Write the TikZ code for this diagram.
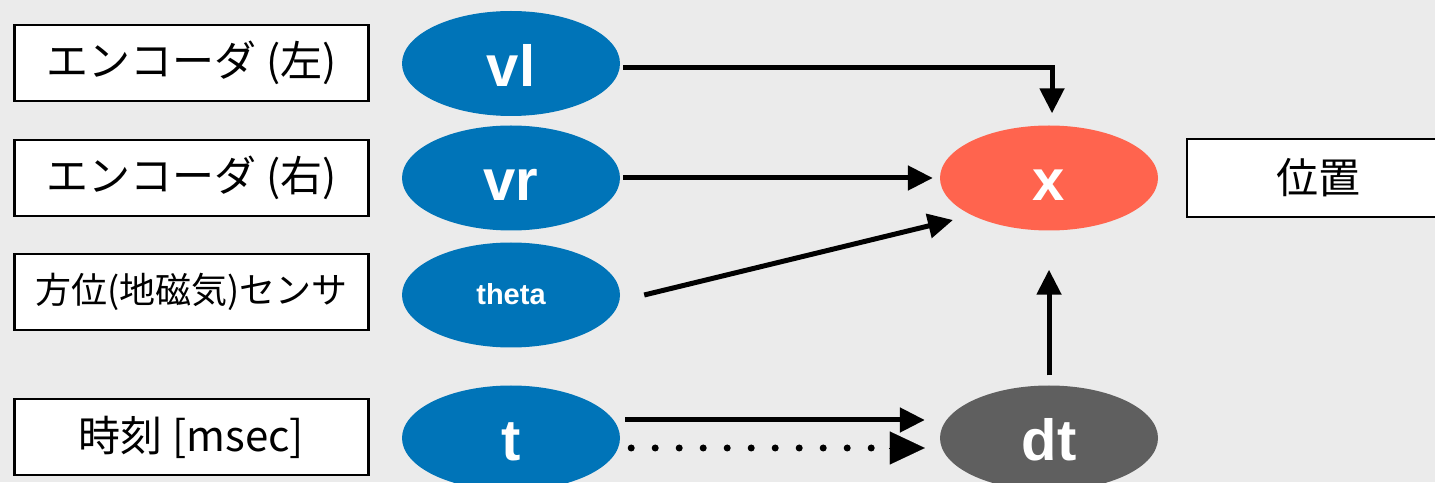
\documentclass[tikz,border=0pt]{standalone}
\usepackage{fontspec}
\setmainfont{Liberation Sans}
\newfontfamily\jpfont{Noto Sans CJK JP}
\usetikzlibrary{arrows.meta,shapes.geometric}
\definecolor{bg}{HTML}{EBEBEB}
\definecolor{inblue}{HTML}{0074B8}
\definecolor{outred}{HTML}{FF644E}
\definecolor{stepgrey}{HTML}{5F5F5F}
\begin{document}
\begin{tikzpicture}[x=1pt,y=1pt,
  inbox/.style={draw=black, line width=2.5pt, fill=white, minimum width=354pt,
    minimum height=76pt, inner sep=0pt, font=\jpfont\fontsize{42}{42}\selectfont},
  var/.style={ellipse, minimum width=218pt, minimum height=105pt, inner sep=0pt,
    text=white, text height=46pt, text depth=0pt,
    font=\bfseries\fontsize{58}{58}\selectfont},
  smallvar/.style={var, text height=20pt, font=\bfseries\fontsize{29}{29}\selectfont},
  link/.style={line width=5pt, -{Triangle[length=25pt,width=24pt]}},
]
% canvas
\clip (0,0) rectangle (1435,482);
\fill[bg] (0,0) rectangle (1435,482);

% sensor labels
\node[inbox] (encl) at (191.5,419) {エンコーダ (左)};
\node[inbox] (encr) at (191.5,304) {エンコーダ (右)};
\node[inbox, font=\jpfont\fontsize{36}{36}\selectfont] (mag) at (191.5,190) {方位(地磁気)センサ};
\node[inbox] (clock) at (191.5,45) {時刻 [msec]};

% input variables
\node[var, fill=inblue] (vl) at (511,418.5) {vl};
\node[var, fill=inblue] (vr) at (511,304) {vr};
\node[smallvar, fill=inblue] (theta) at (511,187) {theta};
\node[var, fill=inblue] (t) at (511,44) {t};

% derived variables
\node[var, fill=outred] (x) at (1049,304) {x};
\node[var, fill=stepgrey] (dt) at (1049,44) {dt};

% output label
\node[inbox, minimum width=262pt, minimum height=78pt] (pos) at (1318,304) {位置};

% connectors
\draw[link] ([shift={(3,-4.5)}]vl.east) -| ([xshift=3,yshift=12]x.north);
\draw[link] ([shift={(3,0)}]vr.east) -- ([shift={(-7,0)}]x.west);
\draw[link] ([xshift=24]theta.east) -- ([shift={(-96,-42)}]x.center);
\draw[link] ([yshift=10]dt.north) -- ([yshift=-39]x.south);
\draw[link] ([shift={(5,18)}]t.east) -- ([shift={(-15,18)}]dt.west);
\draw[line width=7pt, line cap=round, dash pattern=on 0pt off 24pt]
  ([shift={(11,-10)}]t.east) -- ([shift={(-49,-10)}]dt.west);
\draw[line width=0.1pt, -{Triangle[length=35pt,width=33pt]}]
  ([shift={(-51,-10)}]dt.west) -- ([shift={(-15,-10)}]dt.west);
\end{tikzpicture}
\end{document}
